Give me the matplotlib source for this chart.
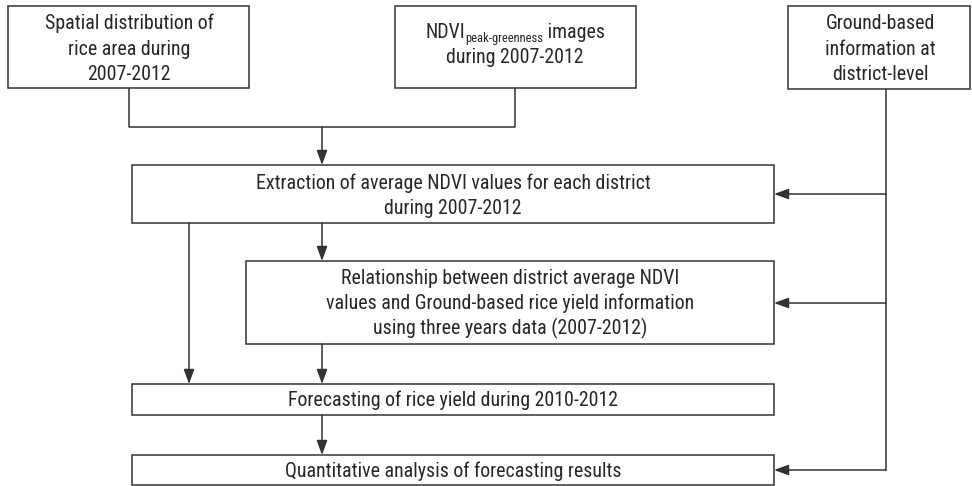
import matplotlib.pyplot as plt
from matplotlib.patches import Rectangle

# texts of the flowchart
top_left = ['Spatial distribution of', 'rice area during', '2007-2012']
top_mid_sub = 'peak-greenness'
top_mid = ['NDVI', ' images', 'during 2007-2012']
top_right = ['Ground-based', 'information at', 'district-level']
step1 = ['Extraction of average NDVI values for each district', 'during 2007-2012']
step2 = ['Relationship between district average NDVI',
         'values and Ground-based rice yield information',
         'using three years data (2007-2012)']
step3 = ['Forecasting of rice yield during 2010-2012']
step4 = ['Quantitative analysis of forecasting results']

plt.rcParams['font.family'] = ['Roboto Condensed', 'DejaVu Sans']
LC = '#333333'
TC = '#262626'
FS = 14.3
LW = 1.1

fig = plt.figure(figsize=(9.72, 4.86), dpi=100)
ax = fig.add_axes([0, 0, 1, 1])
ax.set_xlim(0, 972)
ax.set_ylim(486, 0)
ax.axis('off')

def box(x0, y0, x1, y1):
    ax.add_patch(Rectangle((x0, y0), x1 - x0, y1 - y0, fill=False, ec=LC, lw=LW))

# ys are baselines
def lines(xc, ys, txt):
    for y, t in zip(ys, txt):
        ax.text(xc, y, t, ha='center', va='baseline', fontsize=FS, color=TC)

def seg(pts):
    xs = [p[0] for p in pts]
    ys = [p[1] for p in pts]
    ax.plot(xs, ys, color=LC, lw=LW, solid_capstyle='butt')

def arrow(x0, y0, x1, y1):
    ax.annotate('', xy=(x1, y1), xytext=(x0, y0),
                arrowprops=dict(arrowstyle='-|>,head_length=0.55,head_width=0.2',
                                color=LC, lw=LW, mutation_scale=16,
                                shrinkA=0, shrinkB=0))

# top boxes
box(8, 6, 249, 88)
lines(129, [29, 55, 80], top_left)
box(395, 6, 636, 88)
box(788, 6, 970, 89)
lines(880, [29, 55, 80], top_right)

# NDVI subscript line
fig.canvas.draw()
r = fig.canvas.get_renderer()
t1 = ax.text(0, 38, top_mid[0], ha='left', va='baseline', fontsize=FS, color=TC)
t2 = ax.text(0, 42, top_mid_sub, ha='left', va='baseline', fontsize=9, color=TC)
t3 = ax.text(0, 38, top_mid[1], ha='left', va='baseline', fontsize=FS, color=TC)
w1 = t1.get_window_extent(r).width
w2 = t2.get_window_extent(r).width
w3 = t3.get_window_extent(r).width
start = 515 - (w1 + w2 + w3) / 2
t1.set_x(start)
t2.set_x(start + w1)
t3.set_x(start + w1 + w2)
ax.text(515, 63, top_mid[2], ha='center', va='baseline', fontsize=FS, color=TC)

# joins from top boxes
seg([(129, 88), (129, 127), (515, 127), (515, 88)])
arrow(322, 127, 322, 165)

# ground-based line on right
seg([(886, 89), (886, 471)])
arrow(886, 194, 774, 194)
arrow(886, 303, 774, 303)
arrow(886, 470, 774, 470)

# step boxes
box(132, 165, 774, 223)
lines(453, [189, 214], step1)
box(246, 261, 774, 344)
lines(510, [284, 309, 334], step2)
box(132, 384, 774, 415)
lines(453, [406], step3)
box(132, 455, 774, 485)
lines(453, [477], step4)

arrow(322, 223, 322, 261)
arrow(189, 223, 189, 384)
arrow(322, 344, 322, 384)
arrow(322, 415, 322, 455)

fig.savefig('out.png', dpi=100)
